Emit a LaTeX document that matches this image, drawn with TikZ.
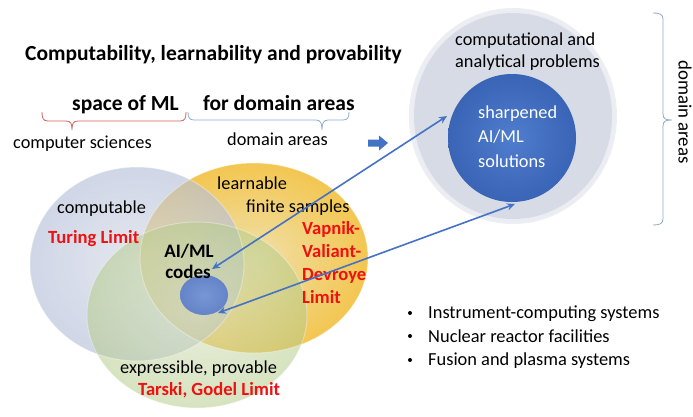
\documentclass[tikz,border=0pt]{standalone}
\usepackage{fontspec}
\setmainfont{Carlito}
\usetikzlibrary{arrows.meta,shapes.geometric}

\definecolor{accent}{HTML}{4472C4}
\definecolor{limitred}{HTML}{EE1111}
\definecolor{bracered}{HTML}{D06060}
\definecolor{braceblue}{HTML}{8EAADB}
\definecolor{bracegray}{HTML}{8FA8C8}
\definecolor{goldin}{HTML}{EEDDA0}
\definecolor{goldout}{HTML}{F2C03E}
\definecolor{grayin}{HTML}{D6DBE8}
\definecolor{grayout}{HTML}{B6C0D8}
\definecolor{sagein}{HTML}{D4DFBC}
\definecolor{sageout}{HTML}{B6CC8C}
\definecolor{corein}{HTML}{7896D4}
\definecolor{coreout}{HTML}{6484C8}
\definecolor{panelin}{HTML}{D6DAE4}
\definecolor{panelout}{HTML}{ECEEF3}
\definecolor{panel}{HTML}{D7DBE5}
\definecolor{solin}{HTML}{507DCD}
\definecolor{solout}{HTML}{3A64B6}

\tikzset{
  txt/.style={font=\fontsize{18.3}{22}\selectfont, inner sep=0pt, anchor=base west},
  boldtxt/.style={font=\fontsize{21.5}{25}\selectfont\bfseries, inner sep=0pt, anchor=base west},
  limittxt/.style={font=\fontsize{18.6}{22}\selectfont\bfseries, text=limitred, inner sep=0pt, anchor=base west},
  listtxt/.style={font=\fontsize{18.4}{22}\selectfont, inner sep=0pt, anchor=base west},
  link/.style={accent, line width=1.6pt, {Stealth[length=8pt,width=7pt]}-{Stealth[length=8pt,width=7pt]}},
  bracepath/.style={line width=0.8pt},
  blob/.style={ellipse, inner sep=0pt},
}

\begin{document}
\begin{tikzpicture}[x=1pt,y=-1pt]
\useasboundingbox (0,0) rectangle (693,416);

% ---------- three overlapping regions ----------
\shade[inner color=goldin, outer color=goldout, opacity=0.9]
  (254,258) ellipse [x radius=114, y radius=95];
\shade[inner color=grayin, outer color=grayout, fill opacity=0.65]
  (137,264) ellipse [x radius=107, y radius=97];
\shade[inner color=sagein, outer color=sageout, fill opacity=0.55]
  (197,315) ellipse [x radius=110, y radius=93];
\draw[white, opacity=0.35, line width=1pt] (137,264) ellipse [x radius=107, y radius=97];
\draw[white, opacity=0.35, line width=1pt] (197,315) ellipse [x radius=110, y radius=93];
\draw[white, opacity=0.35, line width=1pt] (254,258) ellipse [x radius=114, y radius=95];

% small core of AI/ML codes
\node[blob, minimum width=48pt, minimum height=40pt, shade, inner color=corein, outer color=coreout] (core) at (204,295) {};

% ---------- domain panel ----------
\shade[inner color=panelin, middle color=panel, outer color=panelout]
  (513,116) ellipse [x radius=104, y radius=108];
\fill[panel] (513,116) ellipse [x radius=99, y radius=103];
\node[circle, minimum size=128pt, inner sep=0pt, shade, inner color=solin, outer color=solout] (sharp) at (512,138) {};

% ---------- texts ----------
\node[boldtxt] (title) at (25,60) {Computability, learnability and provability};
\node[boldtxt] (space) at (72,110) {space of ML};
\node[boldtxt] (forda) at (203,110) {for domain areas};
\node[txt] (cs) at (13,148) {computer sciences};
\node[txt] (da) at (227,145) {domain areas};

\node[txt] (comp) at (57,213) {computable};
\node[limittxt] (turing) at (48,243) {Turing Limit};
\node[txt] (learn) at (217,189) {learnable};
\node[txt] (finite) at (246,212) {finite samples};
\node[limittxt] (vvd1) at (302,234) {Vapnik-};
\node[limittxt] (vvd2) at (302,257) {Valiant-};
\node[limittxt] (vvd3) at (302,280) {Devroye};
\node[limittxt] (vvd4) at (302,303) {Limit};
\node[txt, font=\fontsize{19}{22}\selectfont\bfseries, anchor=base] (codes1) at (189,257) {AI/ML};
\node[txt, font=\fontsize{19}{22}\selectfont\bfseries, anchor=base] (codes2) at (188,278) {codes};
\node[txt] (expr) at (120,373) {expressible, provable};
\node[limittxt] (tarski) at (138,395) {Tarski, Godel Limit};

\node[txt] (probs1) at (455,45) {computational and};
\node[txt] (probs2) at (455,67) {analytical problems};
\node[txt, text=white] (sol1) at (478,118) {sharpened};
\node[txt, text=white] (sol2) at (478,142) {AI/ML};
\node[txt, text=white] (sol3) at (478,167) {solutions};

\node[listtxt] (item1) at (428,318) {Instrument-computing systems};
\node[listtxt] (item2) at (428,342) {Nuclear reactor facilities};
\node[listtxt] (item3) at (428,365) {Fusion and plasma systems};
\foreach \yy [count=\i] in {313,336,360}
  \fill (410,\yy) circle (2pt) coordinate (bullet\i);

\node[txt, rotate=-90, anchor=center, font=\fontsize{18.8}{22}\selectfont] (dav) at (685,112) {domain areas};

% ---------- braces ----------
\draw[bracered, bracepath]
  (42,112) .. controls (42,118) and (43,121) .. (48,121) -- (66,121)
  .. controls (71,121) and (72,124) .. (72,130)
  .. controls (72,124) and (73,121) .. (78,121) -- (180,121)
  .. controls (185,121) and (186,118) .. (186,112);
\draw[braceblue, bracepath]
  (188,112) .. controls (188,117) and (189,120) .. (194,120) -- (316,120)
  .. controls (321,120) and (322,124) .. (322,130)
  .. controls (322,124) and (323,120) .. (328,120) -- (343,120)
  .. controls (348,120) and (349,117) .. (349,112);
\draw[bracegray, bracepath]
  (653,13) .. controls (659,13) and (663,14) .. (663,19) -- (663,114)
  .. controls (663,119) and (666,120) .. (672,120)
  .. controls (666,120) and (663,121) .. (663,126) -- (663,219)
  .. controls (663,224) and (659,225) .. (653,225);

% ---------- arrows ----------
\fill[accent] (368,139.5) -- (379,139.5) -- (379,135.5) -- (388,143) -- (379,150.5)
  -- (379,146.5) -- (368,146.5) -- cycle;

\coordinate (codesIn) at (212,269);
\coordinate (sharpIn) at (447,116);
\coordinate (coreIn) at (218,313);
\coordinate (sharpLow) at (515,204);
\draw[link] (codesIn) -- (sharpIn);
\draw[link] (coreIn) -- (sharpLow);
\end{tikzpicture}
\end{document}
